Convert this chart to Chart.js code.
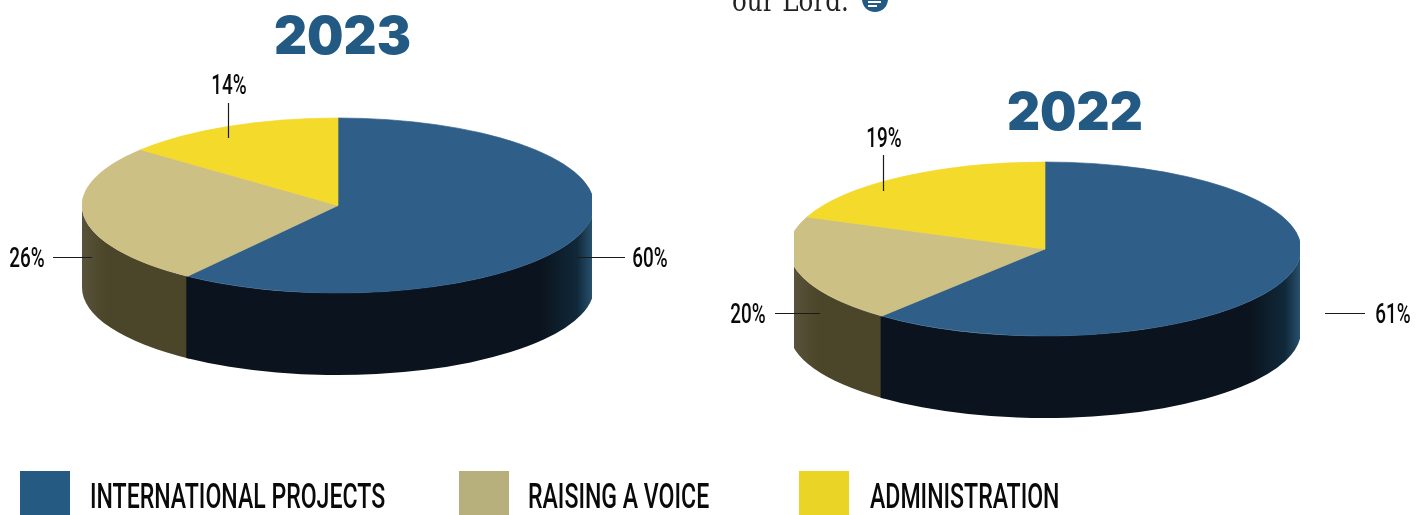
<!DOCTYPE html>
<html>
<head>
<meta charset="utf-8">
<title>2023 / 2022 pies</title>
<script src="https://cdn.jsdelivr.net/npm/chart.js@4/dist/chart.umd.min.js"></script>
<style>
	html, body { margin: 0; padding: 0; background: #fff; }
	#page { position: relative; width: 1426px; height: 515px; overflow: hidden; }
	canvas { position: absolute; left: 0; top: 0; }
	.year { position: absolute; font: 900 52px/52px Inter, sans-serif; color: #235a84; transform-origin: left top; transform: scaleX(0.985); }
	.swatch { position: absolute; top: 471px; width: 50px; height: 44px; }
	.legendText { position: absolute; top: 477px; font: 500 35px/40px Roboto, sans-serif; color: #0a0a0a; white-space: nowrap; transform-origin: left top; transform: scaleX(0.66); }
	#bodyText { position: absolute; left: 732px; top: -15px; font: 30px/32px "DejaVu Serif", serif; color: #222; white-space: nowrap; transform-origin: left top; transform: scaleX(0.82); }
	#bullet { position: absolute; left: 862px; top: -14px; width: 26px; height: 26px; border-radius: 50%; background: #235a84; }
	#bullet i { position: absolute; left: 6px; height: 2px; background: #fff; }
</style>
</head>
<body>
<div id="page">
	<canvas id="pie2023" width="1426" height="515"></canvas>
	<canvas id="pie2022" width="1426" height="515"></canvas>
	<div id="bodyText">our Lord.</div>
	<div id="bullet"><i style="top:15px;width:13px"></i><i style="top:19px;width:9px"></i></div>
	<div class="year" style="left:274px;top:10px">2023</div>
	<div class="year" style="left:1007px;top:86px">2022</div>
	<div id="legend"></div>
</div>
<script>
	var categories = ['INTERNATIONAL PROJECTS', 'RAISING A VOICE', 'ADMINISTRATION'];
	var values2023 = [60, 26, 14];
	var values2022 = [61, 20, 19];

	var topColors = ['#2f5f88', '#cdc085', '#f3da2b'];
	var legendColors = ['#255a82', '#b8b07c', '#ead426'];
	var legendLeft = [20, 459, 799];
	var legendTextLeft = [90, 528, 870];

	// flattening the pie is done in the plugin, the arcs stay plain Chart.js arcs
	var pieDepth = {
		id: 'pieDepth',
		beforeDatasetsDraw: function (chart, args, opts) {
			var ctx = chart.ctx,
				arcs = chart.getDatasetMeta(0).data;

			ctx.save();
			ctx.beginPath();
			ctx.rect(opts.clipLeft, 0, opts.clipRight - opts.clipLeft, chart.height);
			ctx.clip();

			// back to front so the khaki wall runs a hair under the dark one, no white seam
			for (var i = arcs.length - 1; i >= 0; i--) {
				var a0 = Math.max(arcs[i].startAngle, 0),
					a1 = Math.min(arcs[i].endAngle + 0.006, Math.PI);
				if (a1 <= a0) continue;
				if (i > 0) a0 -= 0.01;
				ctx.beginPath();
				ctx.ellipse(opts.x, opts.y, opts.rx, opts.ry, 0, a0, a1);
				ctx.ellipse(opts.x, opts.y + opts.depth, opts.rx, opts.ry, 0, a1, a0, true);
				ctx.closePath();
				ctx.fillStyle = sideFill(ctx, i, opts);
				ctx.fill();
			}

			var r = arcs[0].outerRadius;
			ctx.translate(opts.x, opts.y);
			ctx.scale(opts.rx / r, opts.ry / r);
			ctx.translate(-arcs[0].x, -arcs[0].y);
		},
		afterDatasetsDraw: function (chart, args, opts) {
			var ctx = chart.ctx,
				values = chart.data.datasets[0].data;
			ctx.restore();

			ctx.strokeStyle = '#1a1a1a';
			ctx.lineWidth = 1.2;
			ctx.fillStyle = '#0a0a0a';
			ctx.textAlign = 'center';
			ctx.textBaseline = 'middle';
			ctx.font = '500 27px Roboto, sans-serif';
			opts.callouts.forEach(function (c, i) {
				ctx.beginPath();
				ctx.moveTo(c.line[0], c.line[1]);
				ctx.lineTo(c.line[2], c.line[3]);
				ctx.stroke();
				ctx.save();
				ctx.translate(c.label[0], c.label[1]);
				ctx.scale(0.7, 1);
				ctx.fillText(values[i] + '%', 0, 0);
				ctx.restore();
			});
		}
	};

	function sideFill(ctx, i, opts) {
		var g = ctx.createLinearGradient(opts.clipLeft, 0, opts.clipRight, 0),
			w = opts.clipRight - opts.clipLeft;
		if (i === 0) {
			g.addColorStop(0, '#0b141e');
			g.addColorStop(1 - 50 / w, '#0b141e');
			g.addColorStop(1 - 15 / w, '#10293a');
			g.addColorStop(1, '#28506d');
		} else {
			g.addColorStop(0, '#57523a');
			g.addColorStop(25 / w, '#4b4529');
			g.addColorStop(1, '#4b4529');
		}
		return g;
	}

	function makePie(id, values, opts) {
		return new Chart(document.getElementById(id), {
			type: 'pie',
			data: {
				labels: categories,
				datasets: [{
					data: values,
					backgroundColor: topColors,
					borderColor: topColors,
					borderWidth: 1
				}]
			},
			options: {
				responsive: false,
				animation: false,
				events: [],
				plugins: {
					legend: { display: false },
					tooltip: { enabled: false },
					pieDepth: opts
				}
			},
			plugins: [pieDepth]
		});
	}

	makePie('pie2023', values2023, {
		x: 338, y: 205.5, rx: 256, ry: 87.5, depth: 82, clipLeft: 82, clipRight: 592,
		callouts: [
			{ line: [577, 257.5, 625, 257.5], label: [650, 260] },
			{ line: [53, 257.5, 92, 257.5], label: [27, 260] },
			{ line: [228.5, 103, 228.5, 138], label: [229, 87] }
		]
	});

	makePie('pie2022', values2022, {
		x: 1045, y: 249, rx: 256, ry: 87, depth: 82, clipLeft: 794, clipRight: 1300,
		callouts: [
			{ line: [1325, 313.5, 1365, 313.5], label: [1393, 316] },
			{ line: [775, 313.5, 820, 313.5], label: [748, 316] },
			{ line: [883.5, 155, 883.5, 191], label: [884, 140] }
		]
	});

	var legend = document.getElementById('legend');
	categories.forEach(function (name, i) {
		var box = document.createElement('div');
		box.className = 'swatch';
		box.style.left = legendLeft[i] + 'px';
		box.style.background = legendColors[i];
		legend.appendChild(box);

		var text = document.createElement('div');
		text.className = 'legendText';
		text.style.left = legendTextLeft[i] + 'px';
		text.textContent = name;
		legend.appendChild(text);
	});
</script>
</body>
</html>
